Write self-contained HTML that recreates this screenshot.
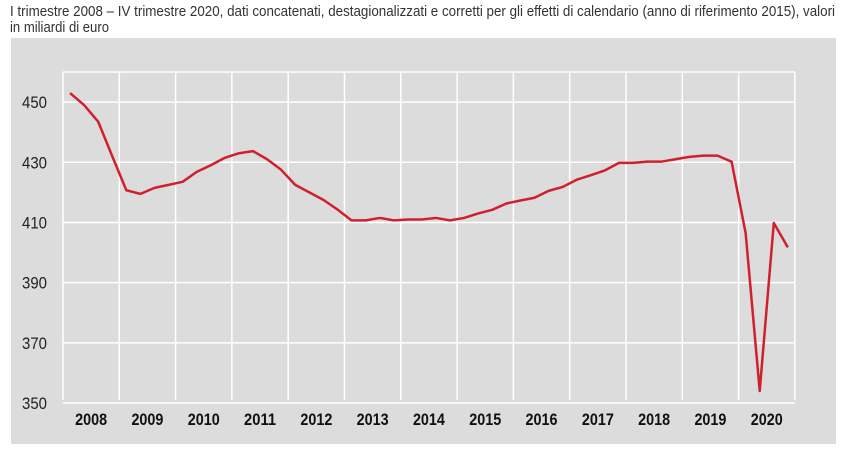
<!DOCTYPE html>
<html><head><meta charset="utf-8"><style>
body{margin:0;background:#fff;}
svg{display:block;font-family:"Liberation Sans",sans-serif;}
</style></head><body>
<svg id="chart" width="850" height="451" viewBox="0 0 850 451">
<text x="10" y="16" font-size="15" fill="#333" textLength="825" lengthAdjust="spacingAndGlyphs">I trimestre 2008 – IV trimestre 2020, dati concatenati, destagionalizzati e corretti per gli effetti di calendario (anno di riferimento 2015), valori</text>
<text x="10" y="32" font-size="15" fill="#333" textLength="99" lengthAdjust="spacingAndGlyphs">in miliardi di euro</text>
<rect x="11" y="38" width="825" height="406" fill="#dcdcdc"/>
<g id="grid"></g><g id="labels"></g><g id="series"></g>
</svg>
<script>
const years=["2008","2009","2010","2011","2012","2013","2014","2015","2016","2017","2018","2019","2020"];
const yTicks=[350,370,390,410,430,450];
const values=[453,449,443.5,432, 420.7,419.5,421.5,422.5, 423.5,426.8,429,431.5, 433,433.7,431,427.5,
 422.5,420,417.5,414.3, 410.7,410.7,411.5,410.7, 411,411,411.5,410.7, 411.5,413,414.2,416.3,
 417.3,418.2,420.5,421.8, 424.2,425.7,427.3,429.8, 429.8,430.2,430.2,431, 431.8,432.2,432.2,430.2,
 406.5,354,409.8,401.7];
const NS="http://www.w3.org/2000/svg";
const x0=63,yw=56.3,yMin=350,yMax=460,py0=403,pyTop=72;
const X=i=>x0+(i+0.5)*yw/4;
const Y=v=>py0-(v-yMin)*(py0-pyTop)/(yMax-yMin);
function mk(t,a,p){const e=document.createElementNS(NS,t);for(const k in a)e.setAttribute(k,a[k]);p.appendChild(e);return e;}
const g=document.getElementById('grid'),lb=document.getElementById('labels'),s=document.getElementById('series');
const xEnd=x0+years.length*yw;
[...yTicks,460].forEach(v=>{
 const l=mk('line',{x1:x0,x2:xEnd,y1:Y(v),y2:Y(v),stroke:'#fff','stroke-width':1.5},g);
 
 
});
for(let i=0;i<=years.length;i++){
 const l=mk('line',{x1:x0+i*yw,x2:x0+i*yw,y1:pyTop,y2:400,stroke:'#fff','stroke-width':1.5},g);
 
 
}
yTicks.forEach(v=>{
 const t=mk('text',{x:47,y:Y(v)+6,'font-size':17,'text-anchor':'end',fill:'#222',textLength:25,lengthAdjust:'spacingAndGlyphs'},lb);
 t.textContent=v;
 
 
});
years.forEach((yr,i)=>{
 const t=mk('text',{x:x0+(i+0.5)*yw,y:425,'font-size':17,'font-weight':'bold','text-anchor':'middle',fill:'#111',textLength:32,lengthAdjust:'spacingAndGlyphs'},lb);
 t.textContent=yr;
 
 
});
const line=mk('polyline',{points:values.map((v,i)=>X(i)+','+Y(v)).join(' '),fill:'none',stroke:'#d0202e','stroke-width':2.5,'stroke-linejoin':'round'},s);


</script>
</body></html>
